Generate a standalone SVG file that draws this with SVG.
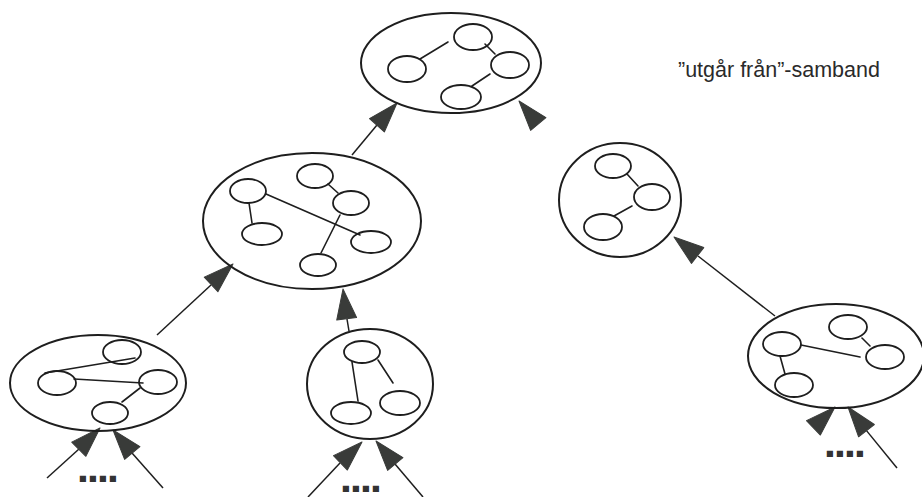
<svg xmlns="http://www.w3.org/2000/svg" xmlns:xlink="http://www.w3.org/1999/xlink" width="922" height="497" viewBox="0 0 922 497">
  <style>
    .outer { fill: none; stroke: #1e1e1e; stroke-width: 2; }
    .inner { fill: none; stroke: #1e1e1e; stroke-width: 1.8; }
    .link  { stroke: #1e1e1e; stroke-width: 1.6; fill: none; stroke-linecap: round; }
    .edge  { stroke: #1e1e1e; stroke-width: 1.5; fill: none; }
    .head  { fill: #393b39; stroke: #393b39; stroke-width: 1; stroke-linejoin: round; }
    .label { font-family: "Liberation Sans", Arial, sans-serif; font-size: 21.5px; fill: #2a2a2a; }
    .dots  { font-family: "Liberation Sans", Arial, sans-serif; font-weight: bold; font-size: 28px; letter-spacing: 2.2px; fill: #333; stroke: #333; stroke-width: 2.2px; stroke-linejoin: miter; }
  </style>
  <defs>
    <!-- filled arrowhead, tip at origin, pointing along +x -->
    <path id="ah" class="head" d="M0,0 L-30,-10 L-30,10 Z"/>
  </defs>
  <rect width="922" height="497" fill="#ffffff"/>

  <!-- connectors -->
  <g id="connectors">
    <line class="edge" x1="352" y1="155" x2="377" y2="125"/>
    <use xlink:href="#ah" transform="translate(397,103) rotate(-48)"/>

    <use xlink:href="#ah" transform="translate(519,101) rotate(-130)"/>

    <line class="edge" x1="157" y1="335" x2="211" y2="285"/>
    <use xlink:href="#ah" transform="translate(233,264) rotate(-43)"/>

    <line class="edge" x1="349" y1="331" x2="347" y2="319"/>
    <use xlink:href="#ah" transform="translate(343,289) rotate(-97)"/>

    <line class="edge" x1="775" y1="316" x2="698" y2="256"/>
    <use xlink:href="#ah" transform="translate(674,237) rotate(-142)"/>

    <use xlink:href="#ah" transform="translate(835,407) rotate(-44)"/>
    <line class="edge" x1="897" y1="468" x2="866.5" y2="430.6"/>
    <use xlink:href="#ah" transform="translate(848,407) rotate(-128)"/>

    <line class="edge" x1="47" y1="478" x2="79" y2="449"/>
    <use xlink:href="#ah" transform="translate(100,428) rotate(-45)"/>
    <line class="edge" x1="163" y1="488" x2="132" y2="453"/>
    <use xlink:href="#ah" transform="translate(113,430) rotate(-130)"/>

    <line class="edge" x1="308" y1="497" x2="340" y2="463"/>
    <use xlink:href="#ah" transform="translate(362,442) rotate(-44)"/>
    <line class="edge" x1="423" y1="497" x2="395" y2="464"/>
    <use xlink:href="#ah" transform="translate(376,441) rotate(-130)"/>
  </g>

  <!-- top node -->
  <g id="node-top">
    <ellipse class="outer" cx="451" cy="63" rx="90" ry="50"/>
    <ellipse class="inner" cx="473" cy="37" rx="19" ry="13"/>
    <ellipse class="inner" cx="407" cy="69" rx="19" ry="13"/>
    <ellipse class="inner" cx="510" cy="65" rx="19" ry="13"/>
    <ellipse class="inner" cx="461" cy="97" rx="20" ry="12"/>
    <line class="link" x1="420" y1="59" x2="448" y2="42"/>
    <line class="link" x1="485" y1="44" x2="495" y2="54"/>
    <line class="link" x1="490" y1="74" x2="472" y2="86"/>
  </g>

  <!-- middle node -->
  <g id="node-middle">
    <ellipse class="outer" cx="312" cy="221" rx="109" ry="68"/>
    <ellipse class="inner" cx="248" cy="191" rx="18" ry="12"/>
    <ellipse class="inner" cx="315" cy="176" rx="18" ry="12"/>
    <ellipse class="inner" cx="351" cy="203" rx="18" ry="12"/>
    <ellipse class="inner" cx="262" cy="234" rx="20" ry="11"/>
    <ellipse class="inner" cx="371" cy="242" rx="20" ry="11"/>
    <ellipse class="inner" cx="318" cy="265" rx="18" ry="11"/>
    <line class="link" x1="266" y1="194" x2="360" y2="235"/>
    <line class="link" x1="249" y1="203" x2="252" y2="223"/>
    <line class="link" x1="328" y1="184" x2="338" y2="193"/>
    <line class="link" x1="340" y1="215" x2="321" y2="253"/>
  </g>

  <!-- right node -->
  <g id="node-right">
    <ellipse class="outer" cx="620" cy="200" rx="61" ry="57"/>
    <ellipse class="inner" cx="613" cy="166" rx="18" ry="12"/>
    <ellipse class="inner" cx="652" cy="197" rx="18" ry="13"/>
    <ellipse class="inner" cx="603" cy="227" rx="19" ry="13"/>
    <line class="link" x1="627" y1="174" x2="638" y2="186"/>
    <line class="link" x1="632" y1="206" x2="614" y2="216"/>
  </g>

  <!-- bottom-left node -->
  <g id="node-bottom-left">
    <ellipse class="outer" cx="98" cy="383" rx="88" ry="48"/>
    <ellipse class="inner" cx="122" cy="352" rx="19" ry="12"/>
    <ellipse class="inner" cx="57" cy="383" rx="19" ry="12"/>
    <ellipse class="inner" cx="158" cy="382" rx="19" ry="12"/>
    <ellipse class="inner" cx="110" cy="413" rx="18" ry="11"/>
    <line class="link" x1="45" y1="373" x2="135" y2="358"/>
    <line class="link" x1="74" y1="379" x2="143" y2="383"/>
    <line class="link" x1="140" y1="388" x2="122" y2="402"/>
  </g>

  <!-- bottom-middle node -->
  <g id="node-bottom-middle">
    <ellipse class="outer" cx="370" cy="384" rx="63" ry="55"/>
    <ellipse class="inner" cx="362" cy="352" rx="18" ry="11"/>
    <ellipse class="inner" cx="351" cy="413" rx="20" ry="11"/>
    <ellipse class="inner" cx="400" cy="403" rx="20" ry="12"/>
    <line class="link" x1="352" y1="362" x2="358" y2="401"/>
    <line class="link" x1="378" y1="360" x2="393" y2="383"/>
  </g>

  <!-- bottom-right node -->
  <g id="node-bottom-right">
    <ellipse class="outer" cx="836" cy="356" rx="88" ry="52"/>
    <ellipse class="inner" cx="848" cy="327" rx="19" ry="12"/>
    <ellipse class="inner" cx="782" cy="344" rx="19" ry="12"/>
    <ellipse class="inner" cx="885" cy="357" rx="19" ry="12"/>
    <ellipse class="inner" cx="794" cy="385" rx="19" ry="12"/>
    <line class="link" x1="862" y1="338" x2="870" y2="346"/>
    <line class="link" x1="801" y1="345" x2="860" y2="357"/>
    <line class="link" x1="780" y1="356" x2="785" y2="374"/>
  </g>

  <!-- continuation marks -->
  <g id="more-marks">
    <text class="dots" x="79.1" y="481">....</text>
    <text class="dots" x="342" y="491">....</text>
    <text class="dots" x="826" y="456">....</text>
  </g>

  <g id="legend">
    <text class="label" x="678" y="77">”utgår från”-samband</text>
  </g>
</svg>
